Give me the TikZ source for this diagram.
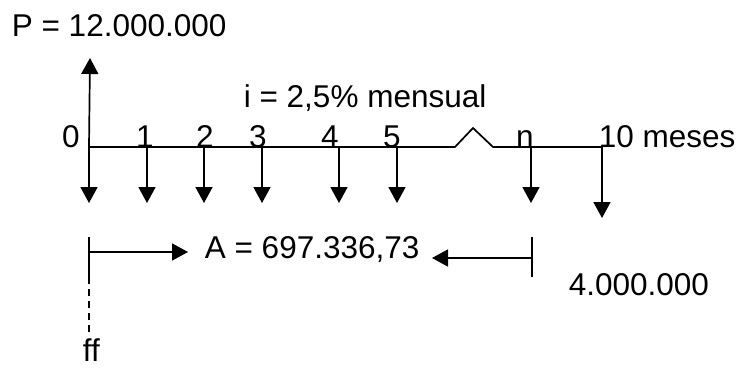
\documentclass[tikz,border=0pt]{standalone}
\usepackage{fontspec}
\setmainfont{Liberation Sans}
\usetikzlibrary{arrows.meta}
\begin{document}
\begin{tikzpicture}[x=1pt,y=-1pt,
  line width=1.7pt,
  flow/.style={-{Triangle[width=17pt,length=16pt]}},
  lbl/.style={inner sep=0pt,font=\fontsize{31.5}{37}\selectfont},
]
\useasboundingbox (0,0) rectangle (737,369);
% axis coordinates
\coordinate (t0) at (89,147);
\coordinate (t1) at (147,147);
\coordinate (t2) at (204,147);
\coordinate (t3) at (262,147);
\coordinate (t4) at (339,147);
\coordinate (t5) at (397,147);
\coordinate (za) at (455,147);
\coordinate (zb) at (473,128);
\coordinate (zc) at (493,147);
\coordinate (tn) at (531,147);
\coordinate (t10) at (602,147);
\draw (t0) -- (za) -- (zb) -- (zc) -- (t10);
% up arrow
\coordinate (up) at (90,58);
\draw[flow] (t0) -- (up);
% down arrows
\foreach \n/\x in {d0/89,d1/147,d2/204,d3/262,d4/339,d5/397,dn/531}
  \coordinate (\n) at (\x,203);
\coordinate (d10) at (602,218);
\foreach \a/\b in {t0/d0,t1/d1,t2/d2,t3/d3,t4/d4,t5/d5,tn/dn,t10/d10}
  \draw[flow] (\a) -- (\b);
% labels
\node[lbl,anchor=base west] (P) at (11,37) {P = 12.000.000};
\node[lbl,anchor=base west] (i) at (243,107) {i = 2,5\% mensual};
\node[lbl,anchor=base] (l0) at (71,147) {0};
\node[lbl,anchor=base] (l1) at (145,147) {1};
\node[lbl,anchor=base] (l2) at (205,147) {2};
\node[lbl,anchor=base] (l3) at (258,147) {3};
\node[lbl,anchor=base] (l4) at (330,147) {4};
\node[lbl,anchor=base] (l5) at (392,147) {5};
\node[lbl,anchor=base] (ln) at (525,147) {n};
\node[lbl,anchor=base west] (l10) at (598,147) {10 meses};
\node[lbl,anchor=base west] (A) at (204,258) {A = 697.336,73};
\node[lbl,anchor=base west] (F) at (568,295) {4.000.000};
\node[lbl,anchor=base west] (ff) at (82,361) {ff};
% bracket arrows
\coordinate (bl1) at (89,237);
\coordinate (bl2) at (89,277);
\coordinate (bl3) at (89,333);
\coordinate (blm) at (89,252);
\coordinate (blt) at (188,252);
\draw (bl1) -- (bl2);
\draw[dashed,dash pattern=on 7pt off 5pt] (bl2) -- (bl3);
\draw[flow] (blm) -- (blt);
\coordinate (br1) at (532,237);
\coordinate (br2) at (532,277);
\coordinate (brm) at (532,258);
\coordinate (brt) at (432,258);
\draw (br1) -- (br2);
\draw[flow] (brm) -- (brt);
\end{tikzpicture}
\end{document}
